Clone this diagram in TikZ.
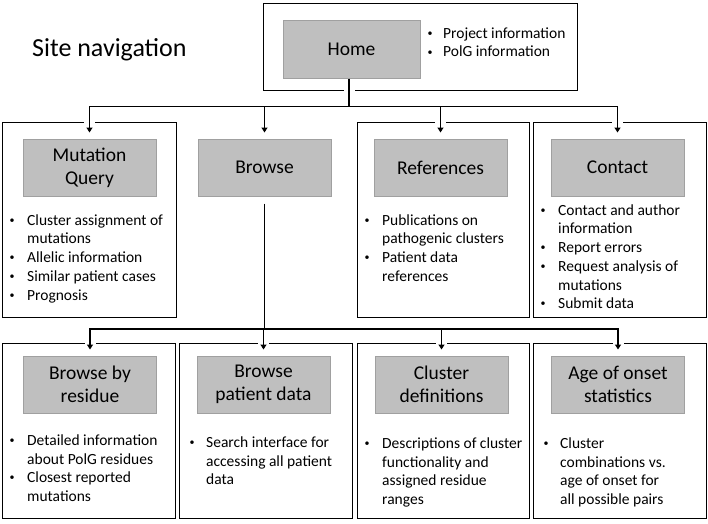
\documentclass[tikz,border=0pt]{standalone}
\usepackage{fontspec}
\setmainfont{Carlito}
\usetikzlibrary{arrows.meta}

\definecolor{tabgray}{RGB}{191,191,191}
\definecolor{tabedge}{RGB}{160,160,160}

\newcommand{\bl}{\hspace{1.5pt}\raisebox{1.8pt}{\fontsize{10}{10}\selectfont\textbullet}}

\tikzset{
  panel/.style={draw=black, line width=1pt, inner sep=0pt},
  tab/.style={draw=tabedge, fill=tabgray, line width=1pt, minimum width=133pt,
    minimum height=57pt, inner sep=0pt, align=center, font=\fontsize{19.5}{23}\selectfont},
  notes/.style={anchor=north west, inner sep=0pt, font=\fontsize{15.5}{18.7}\selectfont},
  link/.style={line width=1.6pt, -{Triangle[width=6pt,length=5pt]}, shorten >=6pt},
  stem/.style={line width=1.6pt},
  cut/.style={draw=white, line width=11pt},
}

\begin{document}
\begin{tikzpicture}[x=1pt, y=-1pt]
\useasboundingbox (0,0) rectangle (708,523);

% panels
\node[panel, minimum width=314pt, minimum height=87pt] (homebox) at (420,46.5) {};
\node[panel, minimum width=174pt, minimum height=195pt] (mqbox) at (89,219.5) {};
\node[panel, minimum width=172pt, minimum height=195pt] (refsbox) at (443,219.5) {};
\node[panel, minimum width=173pt, minimum height=195pt] (contactbox) at (619.5,219.5) {};
\node[panel, minimum width=173pt, minimum height=175pt] (residuebox) at (88.5,430.5) {};
\node[panel, minimum width=173pt, minimum height=175pt] (patientbox) at (265.5,430.5) {};
\node[panel, minimum width=172pt, minimum height=175pt] (clusterbox) at (443,430.5) {};
\node[panel, minimum width=173pt, minimum height=175pt] (onsetbox) at (619.5,430.5) {};

% tabs
\node[tab, minimum width=137pt, minimum height=58pt] (hometab) at (351.5,49) {Home};
\node[tab] (mqtab) at (89.5,167.5) {Mutation\\Query};
\node[tab] (browsetab) at (264.5,167.5) {Browse};
\node[tab] (refstab) at (440.5,167.5) {References};
\node[tab] (contacttab) at (617.5,167.5) {Contact};
\node[tab] (residuetab) at (90,384.5) {Browse by\\residue};
\node[tab] (patienttab) at (263.5,384.5) {Browse\\patient data};
\node[tab] (clustertab) at (441.5,384.5) {Cluster\\definitions};
\node[tab] (onsettab) at (618,384.5) {Age of onset\\statistics};

\node[anchor=base west, inner sep=0pt, font=\fontsize{26}{31}\selectfont] (title) at (32,56) {Site navigation};

\coordinate (bus1) at (349,106.5);
\coordinate (bus2) at (browsetab.south |- 0,329);

% gaps in the panel borders
\draw[cut, shorten <=4pt, shorten >=4pt] (bus1 |- hometab.south) -- (bus1);
\foreach \t in {mq,browse,refs,contact}
  \draw[cut, shorten <=4pt, shorten >=9pt] (\t tab.north |- bus1) -- (\t tab.north);
\foreach \t in {residue,patient,cluster,onset}
  \draw[cut, shorten <=4pt, shorten >=7pt] (\t tab.north |- bus2) -- (\t tab.north);

% links
\draw[stem] (bus1 |- hometab.south) -- (bus1);
\foreach \t in {mq,browse,refs,contact}
  \draw[link] (bus1) -| (\t tab.north);
\draw[stem, shorten <=7pt] (browsetab.south) -- (bus2);
\foreach \t in {residue,patient,cluster,onset}
  \draw[link] (bus2) -| (\t tab.north);

% notes
\node[notes] (homenotes) at (426,25) {\begin{tabular}{@{}p{17pt}@{}l@{}}
\bl & Project information\\
\bl & PolG information
\end{tabular}};
\node[notes] (mqnotes) at (8,212) {\begin{tabular}{@{}p{19pt}@{}l@{}}
\bl & Cluster assignment of\\
    & mutations\\
\bl & Allelic information\\
\bl & Similar patient cases\\
\bl & Prognosis
\end{tabular}};
\node[notes] (refsnotes) at (363,212) {\begin{tabular}{@{}p{19pt}@{}l@{}}
\bl & Publications on\\
    & pathogenic clusters\\
\bl & Patient data\\
    & references
\end{tabular}};
\node[notes] (contactnotes) at (539,202) {\begin{tabular}{@{}p{19pt}@{}l@{}}
\bl & Contact and author\\
    & information\\
\bl & Report errors\\
\bl & Request analysis of\\
    & mutations\\
\bl & Submit data
\end{tabular}};
\node[notes] (residuenotes) at (8,432) {\begin{tabular}{@{}p{19pt}@{}l@{}}
\bl & Detailed information\\
    & about PolG residues\\
\bl & Closest reported\\
    & mutations
\end{tabular}};
\node[notes] (patientnotes) at (188,434) {\begin{tabular}{@{}p{18pt}@{}l@{}}
\bl & Search interface for\\
    & accessing all patient\\
    & data
\end{tabular}};
\node[notes] (clusternotes) at (363,435) {\begin{tabular}{@{}p{19pt}@{}l@{}}
\bl & Descriptions of cluster\\
    & functionality and\\
    & assigned residue\\
    & ranges
\end{tabular}};
\node[notes] (onsetnotes) at (542,435) {\begin{tabular}{@{}p{18pt}@{}l@{}}
\bl & Cluster\\
    & combinations vs.\\
    & age of onset for\\
    & all possible pairs
\end{tabular}};

\end{tikzpicture}
\end{document}
